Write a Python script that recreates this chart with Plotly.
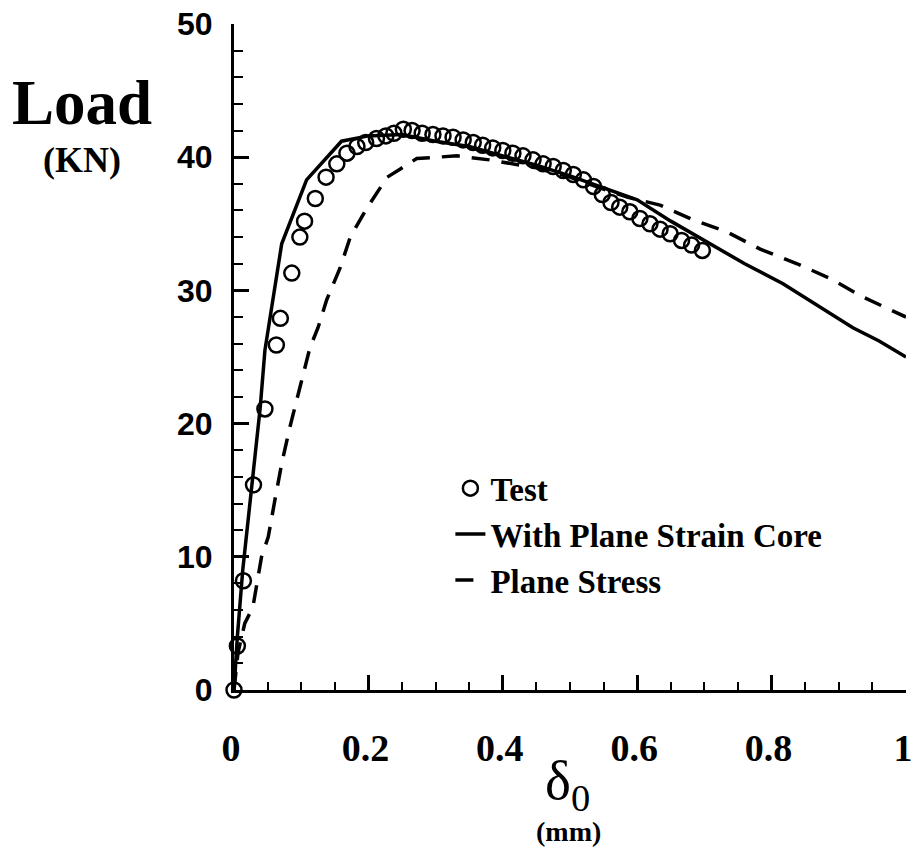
import plotly.graph_objects as go

# ---- data ----
test_x = [0.0, 0.005, 0.014, 0.029, 0.046, 0.063, 0.069, 0.086, 0.098, 0.105,
          0.121, 0.137, 0.153, 0.168, 0.183, 0.196, 0.212, 0.226, 0.238, 0.252,
          0.265, 0.280, 0.296, 0.311, 0.326, 0.341, 0.356, 0.370, 0.385, 0.400,
          0.415, 0.430, 0.445, 0.460, 0.475, 0.490, 0.505, 0.520, 0.535, 0.548,
          0.561, 0.574, 0.589, 0.604, 0.619, 0.634, 0.649, 0.666, 0.681, 0.697]
test_load = [0.0, 3.3, 8.2, 15.4, 21.1, 25.9, 27.9, 31.3, 34.0, 35.2,
             36.9, 38.5, 39.5, 40.3, 40.8, 41.1, 41.4, 41.6, 41.8, 42.1,
             42.0, 41.8, 41.7, 41.6, 41.5, 41.3, 41.1, 40.9, 40.7, 40.5,
             40.3, 40.1, 39.8, 39.5, 39.3, 39.0, 38.7, 38.3, 37.8, 37.2,
             36.6, 36.25, 35.9, 35.4, 35.0, 34.6, 34.25, 33.75, 33.4, 33.0]

core_x = [0.0, 0.005, 0.013, 0.027, 0.039, 0.046, 0.071, 0.108, 0.160, 0.200,
          0.250, 0.300, 0.350, 0.400, 0.450, 0.500, 0.550, 0.600, 0.650, 0.708,
          0.760, 0.817, 0.867, 0.921, 0.960, 1.000]
core_load = [0.0, 4.0, 9.0, 15.5, 21.2, 25.5, 33.5, 38.3, 41.2, 41.6,
             41.7, 41.2, 40.8, 40.1, 39.4, 38.6, 37.7, 36.8, 35.2, 33.5,
             32.0, 30.5, 28.9, 27.2, 26.2, 25.0]

stress_x = [0.0, 0.006, 0.016, 0.028, 0.041, 0.051, 0.061, 0.071, 0.083, 0.098,
            0.113, 0.125, 0.138, 0.158, 0.173, 0.198, 0.228, 0.247, 0.272, 0.332,
            0.380, 0.450, 0.500, 0.550, 0.585, 0.634, 0.683, 0.733, 0.783, 0.838,
            0.887, 0.936, 0.986, 1.000]
stress_load = [0.0, 2.8, 5.0, 6.2, 10.0, 11.5, 14.3, 17.0, 19.7, 22.7,
               25.7, 27.2, 29.3, 31.7, 34.0, 36.2, 38.5, 39.1, 39.9, 40.1,
               39.8, 39.2, 38.5, 37.6, 37.0, 36.4, 35.3, 34.4, 33.1, 32.0,
               30.9, 29.5, 28.3, 28.0]

x_ticks = [0, 0.2, 0.4, 0.6, 0.8, 1]
x_ticklabels = ["0", "0.2", "0.4", "0.6", "0.8", "1"]
y_ticks = [0, 10, 20, 30, 40, 50]
y_ticklabels = ["0", "10", "20", "30", "40", "50"]

SERIF = "Liberation Serif, Times New Roman, serif"
SANS = "Liberation Sans, Arial, sans-serif"

fig = go.Figure()
fig.add_trace(go.Scatter(
    x=test_x, y=test_load, mode="markers", name="Test", legendgroup="a",
    marker=dict(symbol="circle-open", size=15, color="black",
                line=dict(width=2.5, color="black")),
    cliponaxis=False))
fig.add_trace(go.Scatter(
    x=core_x, y=core_load, mode="lines", name="With Plane Strain Core",
    legendgroup="b", line=dict(color="black", width=3.5)))
fig.add_trace(go.Scatter(
    x=stress_x, y=stress_load, mode="lines", name="Plane Stress",
    legendgroup="c", line=dict(color="black", width=3.5, dash="18px,12px")))

fig.update_layout(
    width=911, height=851,
    margin=dict(l=234, r=5, t=24, b=161, autoexpand=False),
    paper_bgcolor="white", plot_bgcolor="white",
    showlegend=True,
    legend=dict(x=0.322, y=0.345, xanchor="left", yanchor="top",
                font=dict(family=SERIF, size=33, color="black", weight="bold"),
                bgcolor="rgba(0,0,0,0)", traceorder="grouped",
                tracegroupgap=0),
    annotations=[
        dict(text="Load", xref="paper", yref="paper", x=-0.226, y=0.881,
             showarrow=False, xanchor="center", yanchor="middle",
             font=dict(family=SERIF, size=63, color="black", weight="bold")),
        dict(text="(KN)", xref="paper", yref="paper", x=-0.226, y=0.796,
             showarrow=False, xanchor="center", yanchor="middle",
             font=dict(family=SERIF, size=36, color="black", weight="bold")),
        dict(text="δ<sub>0</sub>", xref="paper", yref="paper", x=0.496, y=-0.142,
             showarrow=False, xanchor="center", yanchor="middle",
             font=dict(family=SERIF, size=55, color="black")),
        dict(text="(mm)", xref="paper", yref="paper", x=0.498, y=-0.213,
             showarrow=False, xanchor="center", yanchor="middle",
             font=dict(family=SERIF, size=28, color="black", weight="bold")),
    ],
)

fig.update_xaxes(
    range=[0, 1], showgrid=False, zeroline=False, automargin=False,
    showline=True, linecolor="black", linewidth=3,
    ticks="inside", ticklen=15, tickwidth=2.5, tickcolor="black",
    tickvals=x_ticks, ticktext=x_ticklabels,
    minor=dict(ticks="inside", ticklen=8, tickwidth=2, tickcolor="black", dtick=0.05),
    tickfont=dict(family=SERIF, size=38, color="black", weight="bold"),
    ticklabelstandoff=22, ticklabelshift=-3, ticklabeloverflow="allow")
fig.update_yaxes(
    range=[0, 50], showgrid=False, zeroline=False, automargin=False,
    showline=True, linecolor="black", linewidth=3,
    ticks="inside", ticklen=15, tickwidth=2.5, tickcolor="black",
    tickvals=y_ticks, ticktext=y_ticklabels,
    minor=dict(ticks="inside", ticklen=9, tickwidth=2, tickcolor="black", dtick=2),
    tickfont=dict(family=SANS, size=32, color="black", weight="bold"),
    ticklabelstandoff=12)

fig.write_html("out.html")
